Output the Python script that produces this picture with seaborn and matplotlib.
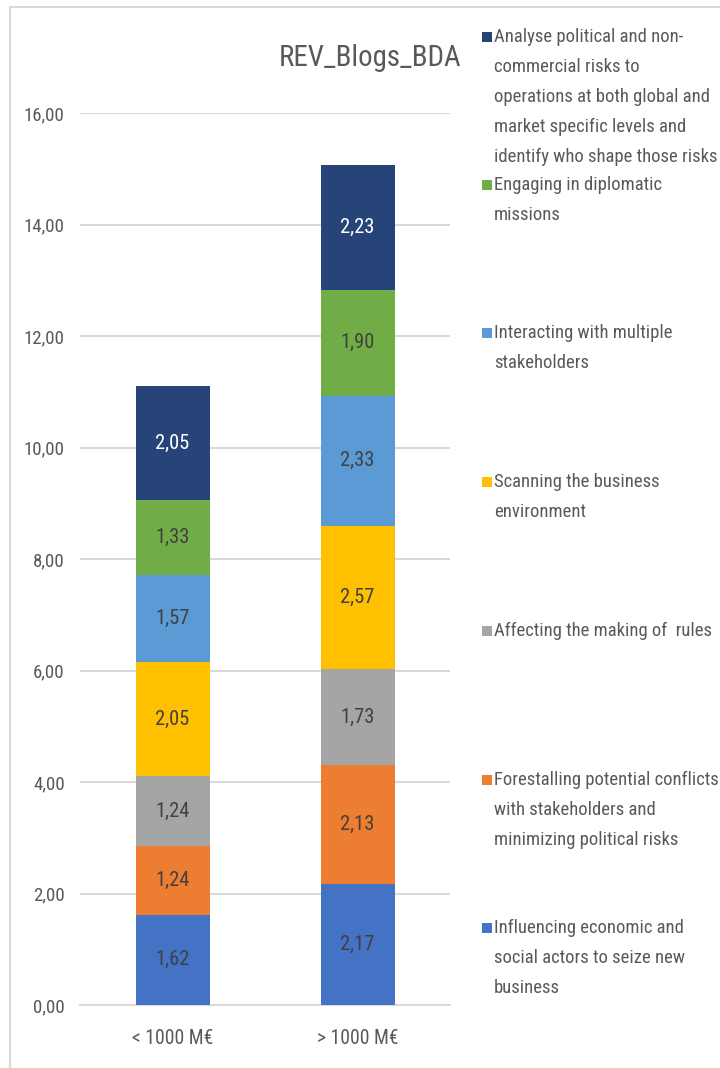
import matplotlib
matplotlib.use("Agg")
import matplotlib.pyplot as plt
from matplotlib.patches import Rectangle
from matplotlib.ticker import FuncFormatter, MultipleLocator
import numpy as np
import pandas as pd
import seaborn as sns

# ---- data -------------------------------------------------------------
categories = ["< 1000 M€", "> 1000 M€"]

series_names = [
    "Influencing economic and social actors to seize new business",
    "Forestalling potential conflicts with stakeholders and minimizing political risks",
    "Affecting the making of  rules",
    "Scanning the business environment",
    "Interacting with multiple stakeholders",
    "Engaging in diplomatic missions",
    "Analyse political and non-commercial risks to operations at both global and market specific levels and identify who shape those risks",
]

influencing = [1.62, 2.17]
forestalling = [1.24, 2.13]
affecting = [1.24, 1.73]
scanning = [2.05, 2.57]
interacting = [1.57, 2.33]
engaging = [1.33, 1.90]
analyse = [2.05, 2.23]

series_values = [influencing, forestalling, affecting, scanning,
                 interacting, engaging, analyse]

# legend text, wrapped as displayed (top entry first)
legend_lines = [
    ["Analyse political and non-", "commercial risks to",
     "operations at both global and", "market specific levels and",
     "identify who shape those risks"],
    ["Engaging in diplomatic", "missions"],
    ["Interacting with multiple", "stakeholders"],
    ["Scanning the business", "environment"],
    ["Affecting the making of  rules"],
    ["Forestalling potential conflicts", "with stakeholders and",
     "minimizing political risks"],
    ["Influencing economic and", "social actors to seize new", "business"],
]

title = "REV_Blogs_BDA"

# ---- style ------------------------------------------------------------
colors = ["#4472C4", "#ED7D31", "#A5A5A5", "#FFC000",
          "#5B9BD5", "#70AD47", "#264478"]
label_colors = ["#404040"] * 6 + ["#FFFFFF"]
text_gray = "#595959"
grid_gray = "#D9D9D9"

sns.set_theme(style="white")
plt.rcParams["font.family"] = ["Roboto Condensed", "Lato", "DejaVu Sans"]

W, H = 720, 1068
fig = plt.figure(figsize=(W / 100, H / 100), dpi=100)
fig.patch.set_facecolor("white")

def fx(px):
    return px / W

def fy(py):
    return 1 - py / H

ax_left, ax_right = 80, 450
ax_top, ax_bottom = 113, 1005
ax = fig.add_axes([fx(ax_left), fy(ax_bottom),
                   fx(ax_right - ax_left), (ax_bottom - ax_top) / H])

# long-form table with cumulative tops for stacking
rows = []
for name, vals in zip(series_names, series_values):
    for cat, v in zip(categories, vals):
        rows.append({"category": cat, "series": name, "value": v})
df = pd.DataFrame(rows)
df["series"] = pd.Categorical(df["series"], categories=series_names, ordered=True)
df = df.sort_values(["category", "series"])
df["top"] = df.groupby("category")["value"].cumsum()
df["bottom"] = df["top"] - df["value"]

# draw from the top segment down so each lower segment covers the rest
for i in range(len(series_names) - 1, -1, -1):
    sub = df[df["series"] == series_names[i]]
    sns.barplot(data=sub, x="category", y="top", order=categories,
                color=colors[i], width=0.4, saturation=1, ax=ax,
                errorbar=None, linewidth=0, zorder=3)

# segment value labels
cat_pos = {c: k for k, c in enumerate(categories)}
for _, r in df.iterrows():
    i = series_names.index(r["series"])
    ax.text(cat_pos[r["category"]], r["bottom"] + r["value"] / 2,
            f"{r['value']:.2f}".replace(".", ","),
            ha="center", va="center", fontsize=14.8,
            color=label_colors[i], zorder=4)

ax.set_xlim(-0.5, 1.5)
ax.set_ylim(0, 16)
ax.yaxis.set_major_locator(MultipleLocator(2))
ax.yaxis.set_major_formatter(FuncFormatter(lambda v, p: f"{v:.2f}".replace(".", ",")))
ax.grid(axis="y", color=grid_gray, linewidth=1.5, zorder=0)
ax.set_axisbelow(True)
for s in ["top", "right", "left"]:
    ax.spines[s].set_visible(False)
ax.spines["bottom"].set_color(grid_gray)
ax.spines["bottom"].set_linewidth(1.5)
ax.set_xlabel("")
ax.set_ylabel("")
ax.tick_params(axis="y", length=0, pad=11, labelsize=13.6, labelcolor=text_gray)
ax.tick_params(axis="x", length=0, pad=17, labelsize=14.1, labelcolor=text_gray)

# title
fig.text(fx(370), fy(58), title, ha="center", va="center",
         fontsize=20.8, color=text_gray)

# legend: square swatch plus wrapped label lines
entry_tops = [37, 185, 333, 482, 631, 780, 928]
pitch = 30
legend_colors = colors[::-1]
for top, lines, col in zip(entry_tops, legend_lines, legend_colors):
    fig.patches.append(Rectangle((fx(482), fy(top + 5)), fx(10), 10 / H,
                                 transform=fig.transFigure, facecolor=col,
                                 edgecolor="none"))
    for k, line in enumerate(lines):
        fig.text(fx(494), fy(top + k * pitch), line, ha="left", va="center",
                 fontsize=13.4, color=text_gray)

# outer chart frame
fig.patches.append(Rectangle((fx(10), -0.1), 2, fy(7) + 0.1,
                             transform=fig.transFigure, fill=False,
                             edgecolor=grid_gray, linewidth=1.5))

fig.savefig("out.png", dpi=100)
